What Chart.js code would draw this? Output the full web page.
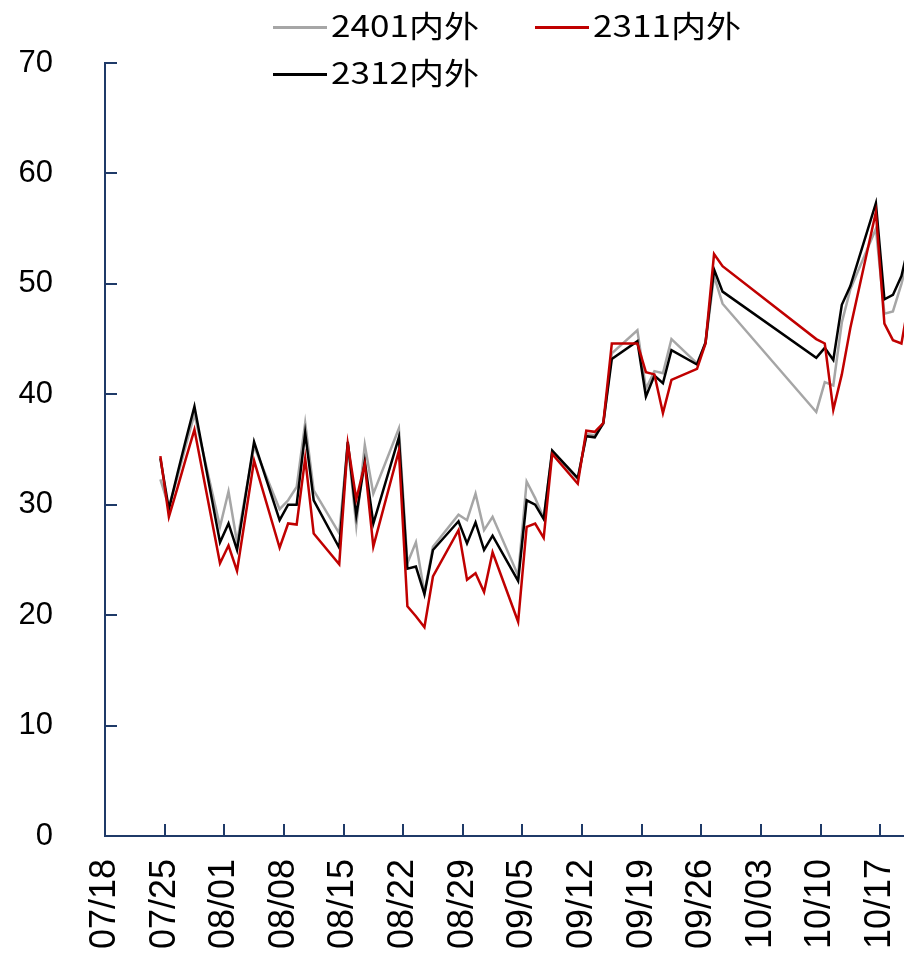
<!DOCTYPE html>
<html>
<head>
<meta charset="utf-8">
<script src="https://cdn.jsdelivr.net/npm/chart.js@4.4.0/dist/chart.umd.min.js"></script>
<style>
  body { margin: 0; background: #fff; }
  #wrap { position: relative; width: 904px; height: 955px; overflow: hidden; }
  .swatch { position: absolute; height: 3px; width: 54px; }
  .ltxt { position: absolute; font: 30px "Noto Sans CJK SC", sans-serif; line-height: 30px;
          white-space: nowrap; transform: scaleX(1.17); transform-origin: left center; color: #000; }
</style>
</head>
<body>
<div id="wrap">
  <canvas id="spreadChart" width="904" height="955"></canvas>
  <div id="legend"></div>
</div>
<script>
// DATA
const seriesNames = ['2401内外', '2311内外', '2312内外'];
const seriesColors = ['#a6a6a6', '#c00000', '#000000'];

const dates = [
  '07/24','07/25','07/26','07/27','07/28','07/31','08/01','08/02','08/03','08/04',
  '08/07','08/08','08/09','08/10','08/11','08/14','08/15','08/16','08/17','08/18',
  '08/21','08/22','08/23','08/24','08/25','08/28','08/29','08/30','08/31','09/01',
  '09/04','09/05','09/06','09/07','09/08','09/11','09/12','09/13','09/14','09/15',
  '09/18','09/19','09/20','09/21','09/22','09/25','09/26','09/27','09/28',
  '10/09','10/10','10/11','10/12','10/13','10/16','10/17','10/18','10/19','10/20'
];

const spread2401 = [
  32.3,29.8,32.5,35.4,38.2,28.0,31.2,26.6,31.0,35.3,
  29.6,30.4,31.6,37.4,31.3,27.4,35.6,28.1,35.4,31.0,
  36.9,24.7,26.6,22.0,26.2,29.1,28.6,31.0,27.7,28.9,
  23.6,32.1,30.6,28.8,34.8,32.3,36.4,36.3,37.3,43.7,
  45.8,40.5,42.1,41.9,45.0,42.8,44.6,50.7,48.2,
  38.4,41.1,40.8,46.5,49.5,55.0,47.3,47.5,50.0,53.0
];

const spread2311 = [
  34.4,28.9,31.5,34.2,36.8,24.7,26.3,24.0,29.0,34.0,
  26.1,28.3,28.2,34.2,27.4,24.6,35.5,30.5,33.7,26.2,
  34.9,20.8,19.9,18.9,23.5,27.7,23.2,23.8,22.1,25.7,
  19.4,28.0,28.3,27.0,34.6,31.9,36.7,36.6,37.4,44.6,
  44.6,42.0,41.8,38.3,41.3,42.3,44.6,52.7,51.6,
  45.0,44.6,38.6,41.8,46.0,56.5,46.4,44.9,44.6,49.0
];

const spread2312 = [
  34.2,29.6,32.8,35.9,38.9,26.6,28.3,25.9,30.8,35.7,
  28.6,30.0,30.0,36.5,30.4,26.1,35.7,29.0,33.9,28.3,
  36.1,24.2,24.4,21.9,25.9,28.5,26.5,28.4,25.9,27.2,
  23.1,30.4,30.0,28.7,34.9,32.4,36.2,36.1,37.4,43.2,
  44.8,39.8,41.7,41.0,44.0,42.7,44.7,51.3,49.3,
  43.3,44.2,43.1,48.1,49.8,57.3,48.6,49.0,50.7,54.0
];

const tickLabels = ['07/18','07/25','08/01','08/08','08/15','08/22','08/29',
  '09/05','09/12','09/19','09/26','10/03','10/10','10/17'];

// HELPERS
const YEAR = 2023;
const START = Date.UTC(YEAR, 6, 18);
function dayIndex(md) {
  const [m, d] = md.split('/').map(Number);
  return (Date.UTC(YEAR, m - 1, d) - START) / 86400000;
}
function toPoints(values) {
  return values.map((v, i) => ({ x: dayIndex(dates[i]), y: v }));
}

const AXIS_COLOR = '#1f3a68';

// ticks pointing inward (like the excel chart)
const innerTicks = {
  id: 'innerTicks',
  afterDraw(chart) {
    const ctx = chart.ctx;
    const xs = chart.scales.x, ys = chart.scales.y;
    ctx.save();
    ctx.strokeStyle = AXIS_COLOR;
    ctx.lineWidth = 2;
    ctx.beginPath();
    xs.ticks.forEach(t => {
      const px = Math.round(xs.getPixelForValue(t.value));
      ctx.moveTo(px, ys.bottom);
      ctx.lineTo(px, ys.bottom - 12);
    });
    ys.ticks.forEach(t => {
      const py = Math.round(ys.getPixelForValue(t.value));
      ctx.moveTo(xs.left, py);
      ctx.lineTo(xs.left + 12, py);
    });
    ctx.stroke();
    ctx.restore();
  }
};

Chart.defaults.font.family = '"Liberation Sans", Arial, sans-serif';
Chart.defaults.color = '#000';

const seriesData = [spread2401, spread2311, spread2312];
const drawOrder = [3, 1, 2];

const ctx = document.getElementById('spreadChart').getContext('2d');
const myChart = new Chart(ctx, {
  type: 'line',
  data: {
    datasets: seriesNames.map((name, i) => ({
      label: name,
      data: toPoints(seriesData[i]),
      borderColor: seriesColors[i],
      backgroundColor: seriesColors[i],
      borderWidth: 2.5,
      pointRadius: 0,
      tension: 0,
      fill: false,
      order: drawOrder[i]
    }))
  },
  options: {
    responsive: false,
    animation: false,
    layout: { padding: { top: 63, right: 0, bottom: 0, left: 0 } },
    plugins: { legend: { display: false }, tooltip: { enabled: false } },
    scales: {
      x: {
        type: 'linear',
        min: -0.5,
        max: 93.3,
        afterBuildTicks(scale) {
          scale.ticks = tickLabels.map(l => ({ value: dayIndex(l) - 0.5 }));
        },
        afterFit(scale) {
          scale.height = 119;
          scale.paddingLeft = 0;
          scale.paddingRight = 0;
        },
        ticks: {
          autoSkip: false,
          minRotation: 90,
          maxRotation: 90,
          padding: 23,
          font: { size: 36 },
          callback: (v, i) => tickLabels[i]
        },
        grid: { display: true, drawOnChartArea: false, drawTicks: false },
        border: { display: true, color: AXIS_COLOR, width: 2 }
      },
      y: {
        min: 0,
        max: 70,
        afterFit(scale) {
          scale.width = 105;
          scale.paddingTop = 0;
          scale.paddingBottom = 0;
        },
        ticks: { stepSize: 10, padding: 52, font: { size: 31 } },
        grid: { display: true, drawOnChartArea: false, drawTicks: false },
        border: { display: true, color: AXIS_COLOR, width: 2 }
      }
    }
  },
  plugins: [innerTicks]
});

// legend (html), built from the datasets
const legendSlots = [{ x: 273, y: 27 }, { x: 535, y: 27 }, { x: 273, y: 74 }];
const legendEl = document.getElementById('legend');
myChart.data.datasets.forEach((ds, i) => {
  const s = legendSlots[i];
  const sw = document.createElement('div');
  sw.className = 'swatch';
  sw.style.left = s.x + 'px';
  sw.style.top = (s.y - 1) + 'px';
  sw.style.background = ds.borderColor;
  legendEl.appendChild(sw);
  const tx = document.createElement('div');
  tx.className = 'ltxt';
  tx.style.left = (s.x + 58) + 'px';
  tx.style.top = (s.y - 18) + 'px';
  tx.textContent = ds.label;
  legendEl.appendChild(tx);
});
</script>
</body>
</html>
